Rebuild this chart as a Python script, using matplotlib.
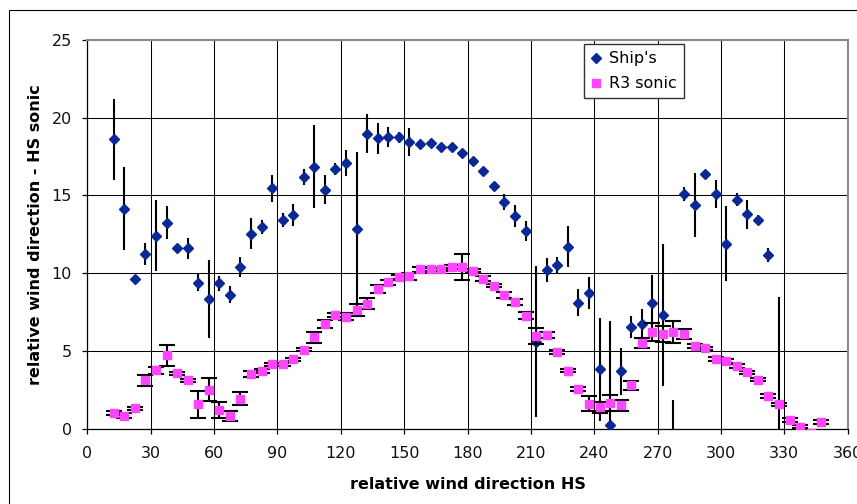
import matplotlib
matplotlib.use("Agg")
import matplotlib.pyplot as plt
from matplotlib.patches import Rectangle

plt.rcParams['font.family'] = ['DejaVu Sans']

# relative wind direction bins (deg)
ship_x = [12.5, 17.5, 22.5, 27.5, 32.5, 37.5, 42.5, 47.5, 52.5, 57.5, 62.5, 67.5,
          72.5, 77.5, 82.5, 87.5, 92.5, 97.5, 102.5, 107.5, 112.5, 117.5, 122.5,
          127.5, 132.5, 137.5, 142.5, 147.5, 152.5, 157.5, 162.5, 167.5, 172.5,
          177.5, 182.5, 187.5, 192.5, 197.5, 202.5, 207.5, 212.5, 217.5, 222.5,
          227.5, 232.5, 237.5, 242.5, 247.5, 252.5, 257.5, 262.5, 267.5, 272.5,
          277.5, 282.5, 287.5, 292.5, 297.5, 302.5, 307.5, 312.5, 317.5, 322.5,
          327.5]
ship_y = [18.62, 14.15, 9.64, 11.24, 12.42, 13.26, 11.60, 11.60, 9.39, 8.32, 9.35,
          8.61, 10.40, 12.55, 12.98, 15.45, 13.43, 13.74, 16.20, 16.85, 15.38,
          16.72, 17.09, 12.83, 18.97, 18.67, 18.76, 18.74, 18.43, 18.33, 18.37,
          18.09, 18.15, 17.72, 17.24, 16.59, 15.64, 14.58, 13.69, 12.72, 5.60,
          10.21, 10.53, 11.71, 8.11, 8.74, 3.82, 0.23, 3.69, 6.54, 6.72, 8.11,
          7.32, -1.00, 15.10, 14.39, 16.40, 15.10, 11.89, 14.74, 13.80, 13.43,
          11.18, -0.50]
ship_err = [2.60, 2.68, 0.20, 0.68, 2.27, 1.07, 0.25, 0.68, 0.53, 2.50, 0.48, 0.55,
            0.64, 1.00, 0.45, 0.88, 0.45, 0.71, 0.50, 2.67, 0.95, 0.40, 0.84, 4.95,
            1.24, 0.97, 0.65, 0.34, 0.92, 0.15, 0.20, 0.20, 0.15, 0.10, 0.10, 0.10,
            0.15, 0.52, 0.72, 0.63, 4.85, 0.78, 0.52, 1.30, 0.89, 1.02, 3.30, 6.70,
            1.50, 0.68, 1.00, 1.78, 4.55, 2.85, 0.45, 2.05, 0.25, 0.89, 2.42, 0.40,
            0.94, 0.30, 0.47, 9.00]

r3_x = [12.5, 17.5, 22.5, 27.5, 32.5, 37.5, 42.5, 47.5, 52.5, 57.5, 62.5, 67.5,
        72.5, 77.5, 82.5, 87.5, 92.5, 97.5, 102.5, 107.5, 112.5, 117.5, 122.5,
        127.5, 132.5, 137.5, 142.5, 147.5, 152.5, 157.5, 162.5, 167.5, 172.5,
        177.5, 182.5, 187.5, 192.5, 197.5, 202.5, 207.5, 212.5, 217.5, 222.5,
        227.5, 232.5, 237.5, 242.5, 247.5, 252.5, 257.5, 262.5, 267.5, 272.5,
        277.5, 282.5, 287.5, 292.5, 297.5, 302.5, 307.5, 312.5, 317.5, 322.5,
        327.5, 332.5, 337.5, 342.5, 347.5]
r3_y = [1.02, 0.84, 1.31, 3.11, 3.75, 4.71, 3.56, 3.11, 1.56, 2.52, 1.20, 0.81,
        1.94, 3.51, 3.71, 4.14, 4.14, 4.46, 5.08, 5.88, 6.72, 7.32, 7.21, 7.64,
        8.05, 8.97, 9.42, 9.75, 9.79, 10.26, 10.26, 10.26, 10.41, 10.41, 10.15,
        9.64, 9.19, 8.62, 8.13, 7.28, 5.96, 6.03, 4.95, 3.73, 2.55, 1.62, 1.37,
        1.67, 1.50, 2.78, 5.53, 6.20, 6.09, 6.20, 6.07, 5.32, 5.16, 4.48, 4.35,
        4.05, 3.62, 3.15, 2.09, 1.56, 0.55, 0.12, -0.25, 0.45]
r3_err = [0.15, 0.15, 0.10, 0.36, 0.24, 0.66, 0.10, 0.10, 0.84, 0.75, 0.50, 0.30,
          0.39, 0.18, 0.15, 0.10, 0.10, 0.10, 0.10, 0.35, 0.26, 0.15, 0.20, 0.41,
          0.36, 0.27, 0.15, 0.15, 0.22, 0.15, 0.10, 0.10, 0.15, 0.85, 0.10, 0.15,
          0.10, 0.20, 0.20, 0.25, 0.52, 0.20, 0.12, 0.10, 0.12, 0.46, 0.35, 0.50,
          0.35, 0.30, 0.33, 0.57, 0.50, 0.72, 0.32, 0.15, 0.10, 0.15, 0.15, 0.12,
          0.10, 0.10, 0.12, 0.10, 0.12, 0.10, 0.10, 0.12]

x_ticks = [0, 30, 60, 90, 120, 150, 180, 210, 240, 270, 300, 330, 360]
y_ticks = [0, 5, 10, 15, 20, 25]

SHIP_BLUE = '#0a2896'
R3_PINK = '#ff44ff'

W, H = 857, 504
fig = plt.figure(figsize=(W / 100, H / 100), dpi=100)
fig.patch.set_facecolor('white')

# outer chart frame
fig.patches.append(Rectangle((9 / W, -0.2), 2.0, 1.2 - 10 / H,
                             transform=fig.transFigure, fill=False,
                             edgecolor='black', linewidth=0.8, zorder=0))

ax = fig.add_axes([87.3 / W, 1 - 428.7 / H, (847.7 - 87.3) / W, (428.7 - 40) / H])
ax.set_xlim(0, 360)
ax.set_ylim(0, 25)
ax.set_xticks(x_ticks)
ax.set_yticks(y_ticks)
ax.grid(True, color='black', linewidth=0.75, zorder=0)
ax.set_axisbelow(True)

for side in ('top', 'right'):
    ax.spines[side].set_color('#8a8a8a')
    ax.spines[side].set_linewidth(1.5)
for side in ('left', 'bottom'):
    ax.spines[side].set_color('black')
    ax.spines[side].set_linewidth(0.9)

ax.tick_params(axis='both', direction='out', length=3.5, width=0.9,
               color='black', labelsize=11.5, labelcolor='#111111')
ax.tick_params(axis='x', pad=9)
ax.tick_params(axis='y', pad=7.5)

ax.errorbar(ship_x, ship_y, yerr=ship_err, fmt='D', color=SHIP_BLUE,
            markersize=5.5, markeredgecolor=SHIP_BLUE, ecolor='black',
            elinewidth=1.5, capsize=0, label="Ship's", zorder=3)
ax.errorbar(r3_x, r3_y, yerr=r3_err, fmt='s', color=R3_PINK,
            markersize=5.5, markeredgecolor=R3_PINK, ecolor='black',
            elinewidth=1.5, capsize=5.5, capthick=1.5, label='R3 sonic', zorder=4)

ax.set_xlabel('relative wind direction HS', fontsize=11.5, fontweight='bold',
              labelpad=11.5)
ax.set_ylabel('relative wind direction - HS sonic', fontsize=11.5,
              fontweight='bold', labelpad=6.5)

handles, labels = ax.get_legend_handles_labels()
handles = [h[0] for h in handles]
leg = ax.legend(handles, labels, loc='upper left',
                bbox_to_anchor=((584.3 - 87.3) / (847.7 - 87.3), 1 - 4 / 388.7),
                fontsize=11.5, frameon=True, fancybox=False, framealpha=1,
                edgecolor='#333333', handlelength=0.6, handletextpad=0.5,
                borderpad=0.45, labelspacing=0.62, borderaxespad=0)
leg.get_frame().set_linewidth(1.0)

fig.savefig('out.png', dpi=100, facecolor='white')
